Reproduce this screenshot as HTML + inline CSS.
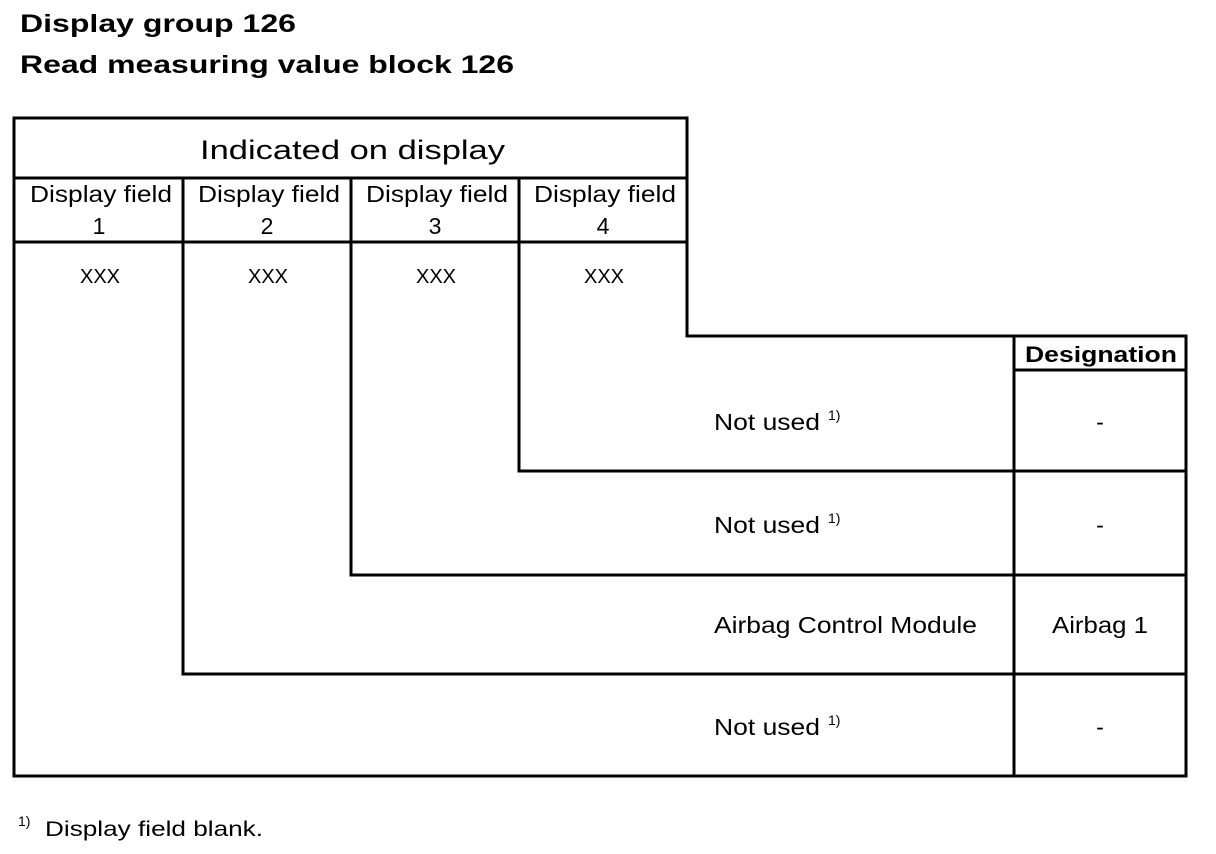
<!DOCTYPE html>
<html><head><meta charset="utf-8"><style>
html,body{margin:0;padding:0;background:#fff;}
svg{display:block;}
text{font-family:"Liberation Sans",Arial,sans-serif;fill:#000;}
</style></head><body>
<svg width="1216" height="854" viewBox="0 0 1216 854" xmlns="http://www.w3.org/2000/svg">
<text x="20" y="32" font-size="25" font-weight="bold" textLength="276" lengthAdjust="spacingAndGlyphs">Display group 126</text>
<text x="20" y="73" font-size="25" font-weight="bold" textLength="494" lengthAdjust="spacingAndGlyphs">Read measuring value block 126</text>
<g stroke="#000" stroke-width="3" fill="none" stroke-linecap="square">
<line x1="14" y1="118" x2="687" y2="118"/>
<line x1="14" y1="118" x2="14" y2="776"/>
<line x1="687" y1="118" x2="687" y2="336"/>
<line x1="14" y1="178" x2="687" y2="178"/>
<line x1="14" y1="242" x2="687" y2="242"/>
<line x1="183" y1="178" x2="183" y2="674"/>
<line x1="351" y1="178" x2="351" y2="575"/>
<line x1="519" y1="178" x2="519" y2="471"/>
<line x1="687" y1="336" x2="1186" y2="336"/>
<line x1="1186" y1="336" x2="1186" y2="776"/>
<line x1="1014" y1="336" x2="1014" y2="776"/>
<line x1="1014" y1="370" x2="1186" y2="370"/>
<line x1="519" y1="471" x2="1186" y2="471"/>
<line x1="351" y1="575" x2="1186" y2="575"/>
<line x1="183" y1="674" x2="1186" y2="674"/>
<line x1="14" y1="776" x2="1186" y2="776"/>
</g>
<text x="200" y="159" font-size="27" textLength="305" lengthAdjust="spacingAndGlyphs">Indicated on display</text>
<g font-size="23" lengthAdjust="spacingAndGlyphs">
<text x="30" y="202" textLength="142" lengthAdjust="spacingAndGlyphs">Display field</text>
<text x="198" y="202" textLength="142" lengthAdjust="spacingAndGlyphs">Display field</text>
<text x="366" y="202" textLength="142" lengthAdjust="spacingAndGlyphs">Display field</text>
<text x="534" y="202" textLength="142" lengthAdjust="spacingAndGlyphs">Display field</text>
</g>
<g font-size="23" text-anchor="middle">
<text x="99" y="234">1</text><text x="267" y="234">2</text><text x="435" y="234">3</text><text x="603" y="234">4</text>
</g>
<g font-size="20">
<text x="80" y="283" textLength="40" lengthAdjust="spacingAndGlyphs">XXX</text>
<text x="248" y="283" textLength="40" lengthAdjust="spacingAndGlyphs">XXX</text>
<text x="416" y="283" textLength="40" lengthAdjust="spacingAndGlyphs">XXX</text>
<text x="584" y="283" textLength="40" lengthAdjust="spacingAndGlyphs">XXX</text>
</g>
<text x="1025" y="362" font-size="22" font-weight="bold" textLength="152" lengthAdjust="spacingAndGlyphs">Designation</text>
<g font-size="23">
<text x="714" y="430" textLength="106" lengthAdjust="spacingAndGlyphs">Not used</text><text x="828" y="420" font-size="14">1)</text>
<text x="714" y="533" textLength="106" lengthAdjust="spacingAndGlyphs">Not used</text><text x="828" y="523" font-size="14">1)</text>
<text x="714" y="633" textLength="263" lengthAdjust="spacingAndGlyphs">Airbag Control Module</text>
<text x="714" y="735" textLength="106" lengthAdjust="spacingAndGlyphs">Not used</text><text x="828" y="725" font-size="14">1)</text>
</g>
<g font-size="23" text-anchor="middle">
<text x="1100" y="430">-</text>
<text x="1100" y="533">-</text>
<text x="1100" y="735">-</text>
</g>
<text x="1052" y="633" font-size="23" textLength="96" lengthAdjust="spacingAndGlyphs">Airbag 1</text>
<text x="18" y="826" font-size="14">1)</text>
<text x="45" y="836" font-size="21" textLength="218" lengthAdjust="spacingAndGlyphs">Display field blank.</text>
</svg>
</body></html>
